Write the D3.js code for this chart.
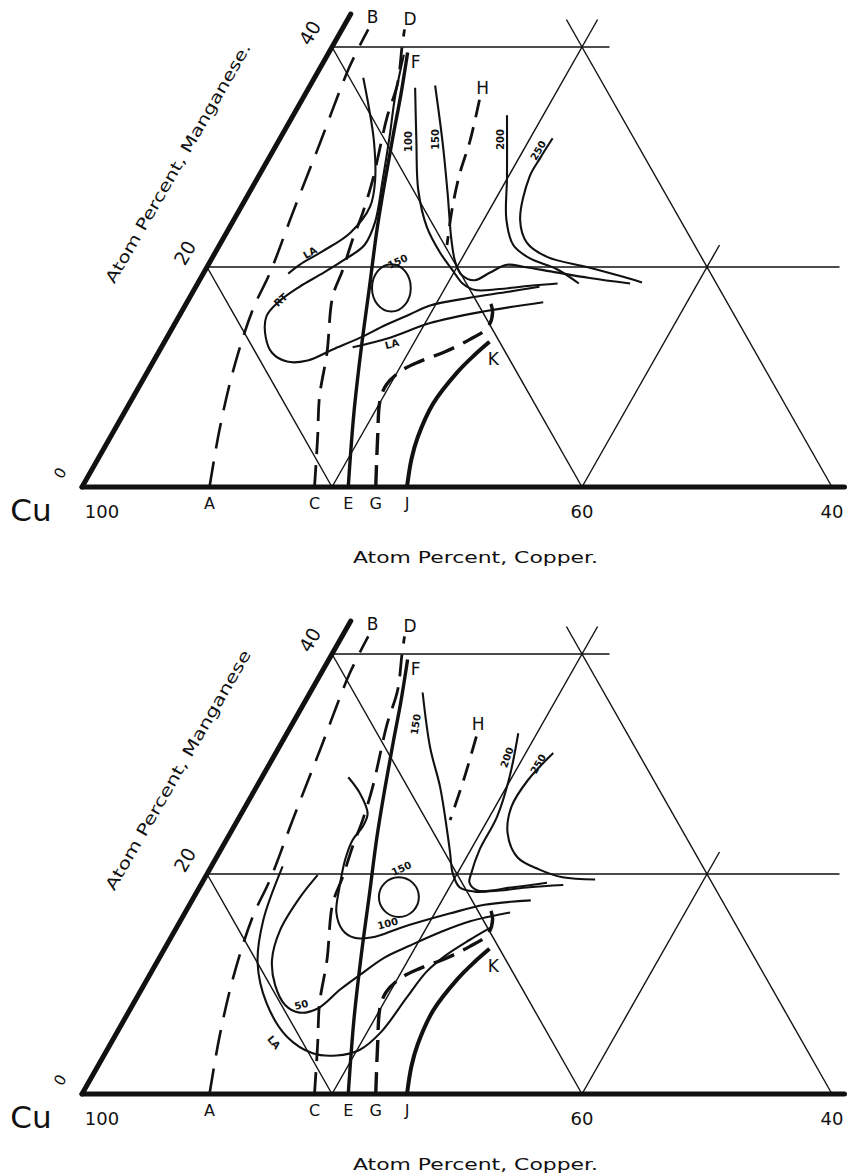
<!DOCTYPE html>
<html>
<head>
<meta charset="utf-8">
<script src="https://cdn.jsdelivr.net/npm/d3@7"></script>
<style>
  body { margin: 0; background: #fff; }
  svg text { font-family: "DejaVu Sans", sans-serif; fill: #111; }
</style>
</head>
<body>
<svg id="chart" width="857" height="1176"></svg>
<script>
// every point is [Cu atom %, Mn atom %]
const cuTicks = [100, 60, 40];
const mnTicks = [0, 20, 40];
const baseLetters = ["A", "C", "E", "G", "J"];
const baseLetterCu = [89.8, 81.4, 78.7, 76.5, 74.0];

// phase boundaries, the same in both diagrams
const lineAB = [[89.8,0],[86.4,5.2],[82.6,10.6],[78.3,16.1],[75.2,19.5],[70.7,24.9],[65.3,31.3],[59.5,38.2],[56.3,41.6]];
const lineCD = [[81.4,0],[78.9,4.5],[76.9,8.2],[74.3,12.2],[71.3,17.3],[69.3,19.7],[67.1,22.5],[65.1,24.9],[62.8,27.9],[58.8,33.6],[56.4,36.7],[54.4,40],[53.4,41.6]];
const lineEF = [[78.7,0],[74.9,6.7],[71.3,12.7],[67.9,18.2],[64.7,23.4],[61.8,27.9],[59.1,32.0],[56.7,35.6],[54.2,39.5]];
const lineGK = [[76.5,0],[74.1,4.5],[72.2,7.9],[71.0,9.3],[69.3,10.5],[67.3,11.4],[64.8,12.3],[62.3,13.4],[60.3,14.5],[59.2,15.9],[58.9,17.0]];
const lineJK = [[74.0,0],[72.4,2.5],[70.9,4.5],[68.1,7.6],[64.8,10.4],[62.6,12.0],[60.8,13.2]];
const endLabels = [["B",55.4,42.7],["D",52.5,42.5],["F",54.0,38.6],["K",61.3,11.6]];

// upper diagram
const topH = [[50.6,35.2],[53.2,31.5],[55.6,28.4],[57.8,25.2],[59.8,22.0]];
const topHLabel = [49.8, 36.3];
const top100 = [[55.2,36.3],[57.5,31.5],[59.6,27.0],[60.6,23.6],[60.7,21.3],[60.5,19.7],[60.3,18.5],[59.6,17.9],[57.6,18.0],[55.0,18.3],[52.7,18.5]];
const top150 = [[53.5,36.5],[55.5,31.3],[57.4,26.7],[59.2,22.5],[59.9,20.5],[60.0,19.3],[59.2,18.8],[57.6,19.5],[55.9,20.2],[54.6,20.0],[52.7,19.6],[49.9,19.0],[46.9,18.5]];
const top200 = [[49.1,33.8],[51.9,28.2],[53.9,24.3],[54.5,22.0],[53.8,20.8],[52.1,19.8],[51.0,18.5]];
const top250 = [[46.5,31.7],[48.4,29.9],[50.1,28.2],[52.8,24.3],[53.3,22.2],[52.3,20.9],[49.6,20.0],[47.4,19.2],[45.9,18.6]];
const topRT = [[54.6,39.3],[57.2,35.5],[59.5,31.8],[62.0,27.9],[64.5,24.1],[66.4,22.0],[68.8,20.6],[71.3,19.3],[73.5,18.2],[75.9,16.8],[77.5,15.5],[78.5,13.6],[78.7,12.2],[77.9,11.4],[76.2,11.5],[73.7,12.5],[70.9,13.6],[68.4,14.7],[65.9,15.7],[63.9,16.5],[60.4,17.2],[57.3,17.7],[54.3,18.2]];
const topLA1 = [[58.9,37.2],[59.8,34.5],[60.9,31.5],[62.6,27.9],[64.2,25.5],[67.0,23.1],[70.1,21.4],[72.5,20.2],[73.8,19.4]];
const topLA2 = [[72.0,12.7],[68.5,13.6],[64.7,14.9],[60.2,15.9],[54.7,16.8]];
const topLoop150 = { centre: [66.2, 18.1], radius: [1.55, 2.15] };
const topLabels = [["100",58.2,31.4],["150",55.9,31.6],["200",50.7,31.6],["250",48.2,30.6],["150",64.5,20.5],["RT",75.6,17.0],["LA",71.1,21.3],["LA",68.7,13.0]];

// lower diagram
const botH = [[52.2,32.5],[55.0,28.8],[58.1,24.9]];
const botHLabel = [51.5, 33.6];
const bot50 = [[71.2,19.9],[73.6,17.9],[76.7,14.9],[78.7,12.2],[79.6,9.9],[79.7,8.1],[78.9,7.4],[77.2,7.8],[74.6,9.5],[72.4,10.8],[69.6,12.4],[67.0,13.5],[64.0,14.7],[61.1,15.7],[57.5,16.5]];
const bot100 = [[64.3,28.8],[64.1,27.4],[64.4,25.5],[65.4,24.3],[66.8,23.1],[68.3,21.3],[70.0,18.8],[71.4,16.5],[71.7,14.9],[71.1,14.2],[69.4,14.3],[67.0,15.1],[62.4,16.4],[59.2,17.2],[55.3,17.6]];
const bot150 = [[54.5,36.5],[56.4,31.5],[57.4,27.9],[58.8,24.0],[59.6,21.9],[60.3,20.1],[60.4,18.8],[59.4,18.4],[57.3,18.5],[54.8,18.8],[52.0,19.0]];
const bot200 = [[48.7,32.8],[51.4,28.8],[54.2,25.2],[57.1,22.2],[58.8,20.1],[59.4,19.2],[59.1,18.5],[56.1,18.8],[53.2,19.2]];
const bot250 = [[46.8,31.0],[50.1,28.5],[52.6,26.1],[54.1,23.7],[54.4,21.5],[53.2,20.4],[51.7,19.7],[49.2,19.5]];
const botLA = [[73.6,20.7],[77.6,15.8],[80.0,11.9],[81.1,8.3],[81.0,5.2],[79.7,3.7],[77.9,3.5],[75.8,4.0],[73.3,5.6],[69.6,8.8],[66.9,11.1],[64.6,12.6],[62.0,14.0],[59.8,15.1]];
const botLoop150 = { centre: [65.7, 17.9], radius: [1.6, 1.8] };
const botLabels = [["150",56.5,33.6],["200",50.7,30.6],["250",48.5,30.0],["150",64.2,20.5],["100",67.8,15.5],["50",78.4,8.1],["LA",82.3,4.7]];

// triangle grid (20 % spacing) and outer edges
const gridLines = [
  [[60,40],[37.8,40]],
  [[80,20],[29.4,20]],
  [[80,20],[80,0]],
  [[60,40],[60,0]],
  [[40,42.5],[40,0]],
  [[80,0],[37.5,42.5]],
  [[60,0],[38,22]]
];
const edgeLines = [[[100,0],[57,43]], [[100,0],[39,0]]];

const panels = [
  { top: 0, mnTitle: "Atom Percent, Manganese.", H: topH, HLabel: topHLabel, loop: topLoop150, labels: topLabels,
    angles: [-90,-90,-90,-60,-25,-42,-30,-15],
    contours: [top100, top150, top200, top250, topRT, topLA1, topLA2] },
  { top: 607, mnTitle: "Atom Percent, Manganese", H: botH, HLabel: botHLabel, loop: botLoop150, labels: botLabels,
    angles: [-80,-70,-60,-25,-15,-15,50],
    contours: [bot50, bot100, bot150, bot200, bot250, botLA] }
];

const svg = d3.select("#chart");
const xBase = d3.scaleLinear().domain([100, 40]).range([82, 832]);
const yMn = d3.scaleLinear().domain([0, 40]).range([487, 47]);
const px = d => xBase(d[0] + d[1] / 2);
const py = d => yMn(d[1]);
const straight = d3.line().x(px).y(py);
const smooth = d3.line().x(px).y(py).curve(d3.curveCatmullRom.alpha(0.5));

panels.forEach(p => {
  const g = svg.append("g").attr("transform", `translate(0, ${p.top})`);

  g.selectAll(".grid").data(gridLines).join("path")
    .attr("d", straight).attr("fill", "none").attr("stroke", "#111").attr("stroke-width", 1.4);

  g.selectAll(".edge").data(edgeLines).join("path")
    .attr("d", straight).attr("fill", "none").attr("stroke", "#111")
    .attr("stroke-width", 5).attr("stroke-linecap", "round");

  const draw = (pts, w, dash) => g.append("path").datum(pts)
    .attr("d", smooth).attr("fill", "none").attr("stroke", "#111")
    .attr("stroke-width", w).attr("stroke-dasharray", dash || null)
    .attr("stroke-linecap", "butt");

  draw(lineAB, 2.6, "26,13");
  draw(lineCD, 2.8, "22,11");
  draw(lineEF, 3.4);
  draw(lineGK, 3.4, "22,10");
  draw(lineJK, 4);
  draw(p.H, 2.8, "18,10");
  p.contours.forEach(c => draw(c, 2.1));

  const c = p.loop.centre;
  g.append("ellipse")
    .attr("cx", px(c)).attr("cy", py(c))
    .attr("rx", xBase(0) - xBase(p.loop.radius[0]))
    .attr("ry", yMn(0) - yMn(p.loop.radius[1]))
    .attr("fill", "none").attr("stroke", "#111").attr("stroke-width", 2);

  // small curve labels
  g.selectAll(".clab").data(p.labels).join("text")
    .attr("transform", (d, i) => `translate(${px([d[1], d[2]])},${py([d[1], d[2]])}) rotate(${p.angles[i]})`)
    .attr("text-anchor", "middle").attr("dy", "0.35em")
    .attr("font-size", 10).attr("font-weight", "bold")
    .text(d => d[0]);

  // boundary end letters
  g.selectAll(".elab").data(endLabels.concat([["H", p.HLabel[0], p.HLabel[1]]])).join("text")
    .attr("x", d => px([d[1], d[2]])).attr("y", d => py([d[1], d[2]]))
    .attr("text-anchor", "middle").attr("dy", "0.35em").attr("font-size", 17)
    .text(d => d[0]);

  // base letters
  g.selectAll(".blab").data(baseLetters).join("text")
    .attr("x", (d, i) => xBase(baseLetterCu[i])).attr("y", yMn(0) + 22)
    .attr("text-anchor", "middle").attr("font-size", 16)
    .text(d => d);

  // Cu ticks
  g.selectAll(".cutick").data(cuTicks).join("text")
    .attr("x", d => xBase(d) + (d === 100 ? 20 : 0)).attr("y", yMn(0) + 31)
    .attr("text-anchor", "middle").attr("font-size", 18)
    .text(d => d);

  g.append("text").attr("x", 31).attr("y", yMn(0) + 34)
    .attr("text-anchor", "middle").attr("font-size", 31).text("Cu");

  // Mn ticks along left edge
  g.selectAll(".mntick").data(mnTicks).join("text")
    .attr("transform", d => `translate(${px([100 - d, d]) - 22},${py([100 - d, d]) - 14}) rotate(-60)`)
    .attr("text-anchor", "middle").attr("dy", "0.35em")
    .attr("font-size", d => d === 0 ? 15 : 19)
    .text(d => d);

  g.append("text")
    .attr("transform", "translate(178,163) rotate(-60)")
    .attr("text-anchor", "middle").attr("dy", "0.35em")
    .attr("font-size", 16).attr("textLength", 274).attr("lengthAdjust", "spacingAndGlyphs")
    .text(p.mnTitle);

  g.append("text")
    .attr("x", 353).attr("y", 563)
    .attr("font-size", 16).attr("textLength", 245).attr("lengthAdjust", "spacingAndGlyphs")
    .text("Atom Percent, Copper.");
});
</script>
</body>
</html>
